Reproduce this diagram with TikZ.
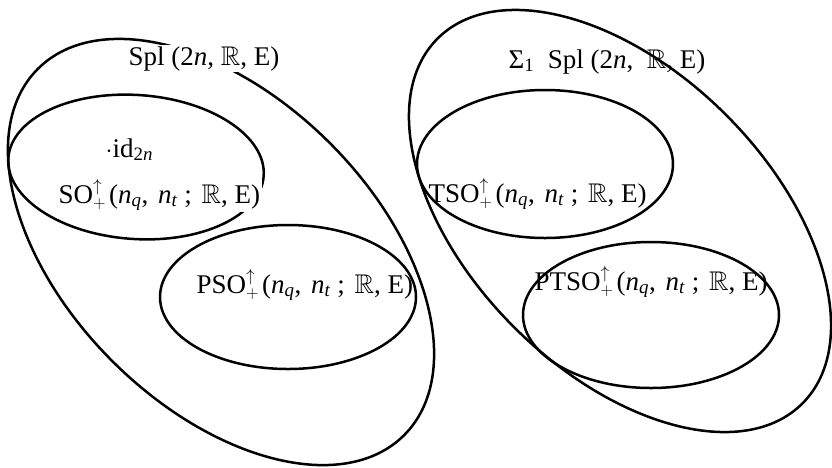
\documentclass[tikz,border=0pt]{standalone}
\usepackage{amsmath,amssymb}
\usepackage{fontspec}
\setmainfont{Liberation Serif}
\newcommand{\vn}[1]{\textit{n}\textsubscript{\textit{#1}}}
\newcommand{\updn}{$^{\uparrow}_{+}$\hspace{3pt}}
\newcommand{\args}{(\vn{q},\hspace{3pt} \vn{t}\ ;\hspace{3pt} $\mathbb{R}$, E)}
\begin{document}
\begin{tikzpicture}[x=1pt,y=-1pt,
  setline/.style={draw, line width=2.5pt},
  lbl/.style={anchor=base west, inner sep=1.5pt, font=\fontsize{27}{32}\selectfont},
  masked/.style={lbl, fill=white}]
\useasboundingbox (0,0) rectangle (832,467);
% left family
\draw[setline, rotate around={-45:(221,252)}] (221,252) ellipse [x radius=259pt, y radius=154pt];
\draw[setline, rotate around={-4:(136,167)}] (136,167) ellipse [x radius=128pt, y radius=72pt];
\draw[setline] (288,297) ellipse [x radius=128pt, y radius=72pt];
% right family
\draw[setline, rotate around={-45:(620,221)}] (620,221) ellipse [x radius=258pt, y radius=150pt];
\draw[setline] (545,164) ellipse [x radius=128pt, y radius=74pt];
\draw[setline] (651,315) ellipse [x radius=128pt, y radius=73pt];
% labels
\node[masked] (spl) at (127,65) {Spl (2\textit{n}, $\mathbb{R}$, E)};
\node[lbl] (id) at (104,157) {$\cdot$id\textsubscript{2\textit{n}}};
\node[masked] (so) at (57,203) {SO\updn\args};
\node[lbl] (pso) at (195,293) {PSO\updn\args};
\node[lbl] (sspl) at (507,68) {Σ\textsubscript{1}\ \ Spl (2\textit{n}, \ $\mathbb{R}$, E)};
\node[lbl] (tso) at (427,202) {TSO\updn\args};
\node[lbl] (ptso) at (533,290) {PTSO\updn\args};
\end{tikzpicture}
\end{document}
